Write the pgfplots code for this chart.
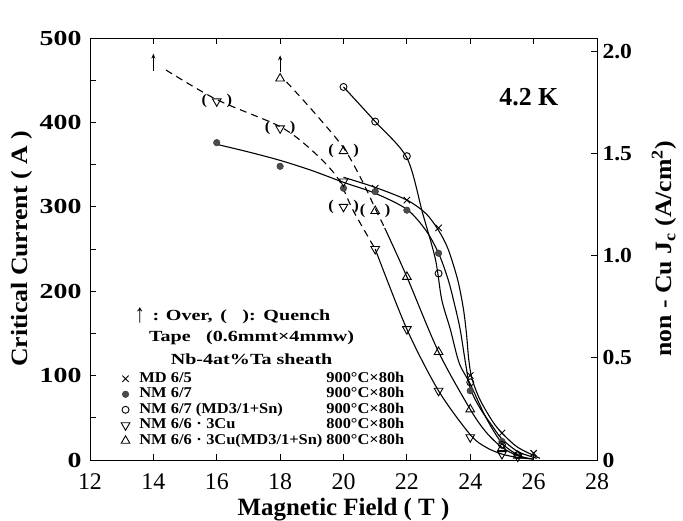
\documentclass[border=0pt]{standalone}
\usepackage{fontspec}
\setmainfont{Liberation Serif}
\newfontfamily\wide{Liberation Serif}[FakeStretch=1.3]
\newfontfamily\lwide{Liberation Serif}[FakeStretch=1.1]
\newfontfamily\mwide{Liberation Serif}[FakeStretch=1.1]
\usepackage{graphicx}
\usepackage{pgfplots}
\pgfplotsset{compat=1.18}
\usetikzlibrary{arrows.meta}

% triangles (up / down) and the same with ( ) for quench points
\pgfdeclareplotmark{utri}{%
  \pgfpathmoveto{\pgfpointpolar{90}{\pgfplotmarksize}}%
  \pgfpathlineto{\pgfpointpolar{210}{\pgfplotmarksize}}%
  \pgfpathlineto{\pgfpointpolar{330}{\pgfplotmarksize}}%
  \pgfpathclose\pgfusepath{stroke}}
\pgfdeclareplotmark{dtri}{%
  \pgfpathmoveto{\pgfpointpolar{270}{\pgfplotmarksize}}%
  \pgfpathlineto{\pgfpointpolar{30}{\pgfplotmarksize}}%
  \pgfpathlineto{\pgfpointpolar{150}{\pgfplotmarksize}}%
  \pgfpathclose\pgfusepath{stroke}}
\newcommand\parfont{\mwide\fontsize{15}{15}\selectfont\bfseries}
\pgfdeclareplotmark{qutri}{%
  \pgfuseplotmark{utri}%
  \pgftext[at={\pgfpoint{-2.5\pgfplotmarksize}{0pt}}]{\parfont(}%
  \pgftext[at={\pgfpoint{2.5\pgfplotmarksize}{0pt}}]{\parfont)}}
\pgfdeclareplotmark{qdtri}{%
  \pgfuseplotmark{dtri}%
  \pgftext[at={\pgfpoint{-2.5\pgfplotmarksize}{0pt}}]{\parfont(}%
  \pgftext[at={\pgfpoint{2.5\pgfplotmarksize}{0pt}}]{\parfont)}}
\pgfdeclareplotmark{over}{%
  \pgfsetarrowsend{Stealth[length=5bp,width=4bp]}%
  \pgfpathmoveto{\pgfpoint{0pt}{-9bp}}%
  \pgfpathlineto{\pgfpoint{0pt}{8bp}}%
  \pgfusepath{stroke}}

\newcommand\namecol{\makebox[187bp][l]}
\newcommand\mdot{\hspace{0.3em}·\hspace{0.3em}}

\begin{document}
\begin{tikzpicture}
\pgfplotsset{
  base/.style={scale only axis, width=507bp, height=422bp,
    xmin=12, xmax=28,
    tick align=inside, major tick length=6bp, minor tick length=6bp,
    /pgf/number format/assume math mode=true,
    yticklabel style={font=\wide\fontsize{21.5}{21.5}\selectfont\bfseries},
    xticklabel style={font=\fontsize{24}{24}\selectfont},
    ylabel style={font=\lwide\fontsize{23.5}{23.5}\selectfont\bfseries},
    xlabel style={font=\fontsize{25}{25}\selectfont\bfseries},
    axis line style={line width=0.9bp},
    every tick/.style={line width=0.9bp, black}},
  crv/.style={black, line width=1.1bp, smooth, tension=0.5, no marks, forget plot},
  dcrv/.style={crv, dash pattern=on 7bp off 5bp},
}
\begin{axis}[base, name=main,
  ymin=0, ymax=500,
  xtick={12,14,...,28}, ytick={0,100,...,500}, minor ytick={50,150,...,450},
  xtick pos=both, ytick pos=left,
  xticklabel style={yshift=-10bp},
  yticklabel style={xshift=-5bp},
  xlabel={Magnetic Field ( T )}, ylabel={Critical Current ( A )},
  xlabel style={yshift=-2bp},
  legend style={at={(axis cs:12.87,108)}, anchor=north west, draw=none, fill=none,
    font=\mwide\fontsize{15}{15}\selectfont\bfseries, row sep=0pt, column sep=9bp,
    nodes={inner sep=0pt, text height=11bp, text depth=4.5bp}},
  legend cell align=left,
]
\coordinate (O) at (rel axis cs:0,0);

% ---- markers (legend order) ----
\addplot[only marks, mark=x, mark size=4.5bp, black, line width=0.9bp] coordinates {
  (21,322) (22,308) (23,275) (24,100) (25,32) (26,8)};
\addlegendentry{\namecol{MD 6/5}900°C×80h}
\addplot[only marks, mark=*, mark size=3.3bp, draw=black!80, fill=black!70] coordinates {
  (16,376) (18,348) (20,322) (21,318) (22,296) (23,245) (24,82) (25,22)};
\addlegendentry{\namecol{NM 6/7}900°C×80h}
\addplot[only marks, mark=o, mark size=3.5bp, black, line width=0.9bp] coordinates {
  (20,442) (21,401) (22,360) (23,221) (24,92) (25,18) (25.5,6)};
\addlegendentry{\namecol{NM 6/7 (MD3/1+Sn)}900°C×80h}
\addplot[only marks, mark=dtri, mark size=5bp, black, line width=0.9bp] coordinates {
  (20,330) (21,250) (22,155) (23,82) (24,27) (25,7) (25.5,4)};
\addlegendentry{\namecol{NM 6/6\mdot 3Cu}800°C×80h}
\addplot[only marks, mark=utri, mark size=5bp, black, line width=0.9bp] coordinates {
  (18,452) (22,217) (23,128) (24,60) (25,14) (25.5,5)};
\addlegendentry{\namecol{NM 6/6\mdot 3Cu(MD3/1+Sn)}800°C×80h}

% ---- quench points and over arrows ----
\addplot[only marks, mark=qdtri, mark size=5bp, black, line width=0.9bp, forget plot] coordinates {
  (16,425) (18,393) (20,300)};
\addplot[only marks, mark=qutri, mark size=5bp, black, line width=0.9bp, forget plot] coordinates {
  (20,366) (21,295)};
\addplot[only marks, mark=over, black, line width=0.8bp, forget plot] coordinates {
  (14,472) (18,470)};

% ---- fitted curves ----
% MD 6/5
\addplot[crv] coordinates {
  (20,335) (21,323) (22,308) (22.6,292) (23,272) (23.3,250) (23.6,214)
  (23.78,180) (23.88,150) (23.95,120) (24.05,97) (24.3,72) (24.7,46) (25,32)
  (25.5,15) (26.2,2)};
% NM 6/7
\addplot[crv] coordinates {
  (16,374) (17,365) (18,355) (19,343) (20,329) (21,316) (22,297) (22.6,272)
  (23,245) (23.3,214) (23.5,185) (23.68,155) (23.85,115) (24,85) (24.3,62)
  (24.7,40) (25,25) (25.5,10) (26.1,2)};
% NM 6/7 (MD3/1+Sn)
\addplot[crv] coordinates {
  (20,442) (21,401) (22,358) (22.5,292) (22.9,238) (23.1,190) (23.37,155)
  (23.65,115) (24,90) (24.5,50) (25,20) (25.5,6) (25.8,2)};
% NM 6/6 3Cu
\addplot[dcrv] coordinates {
  (14.4,462) (16,427) (18,395) (19,367) (19.8,335) (20.3,296) (21,250)};
\addplot[crv] coordinates {
  (21,250) (22,155) (23,82) (24,30) (24.5,15) (25,7) (25.5,3) (26,1)};
% NM 6/6 3Cu (MD3/1+Sn)
\addplot[dcrv] coordinates {
  (18.2,448) (19,415) (20,370) (20.6,330) (21,298) (21.3,275)};
\addplot[crv] coordinates {
  (21.3,275) (22,217) (23,128) (24,60) (24.5,33) (25,15) (25.5,5) (26,1)};

% ---- annotations ----
\node[font=\fontsize{26}{26}\selectfont\bfseries] at (axis cs:25.85,430) {4.2 K};
\node[font=\wide\fontsize{15.5}{15.5}\selectfont\bfseries] at (axis cs:16.5,171)
  {\raisebox{-2bp}{\scalebox{1}[1.7]{↑}}\enspace: Over,\enspace(\quad):\enspace Quench};
\node[font=\wide\fontsize{15.5}{15.5}\selectfont\bfseries] at (axis cs:17.1,145)
  {Tape\quad(0.6mmt×4mmw)};
\node[font=\wide\fontsize{15.5}{15.5}\selectfont\bfseries] at (axis cs:17.1,119)
  {Nb-4at\%Ta sheath};
\end{axis}

\begin{axis}[base,
  ymin=0, ymax=2.064,
  axis x line=none, axis y line*=right,
  ytick={0,0.5,1,1.5,2}, yticklabels={0,0.5,1.0,1.5,2.0},
  yticklabel style={xshift=2bp, font=\mwide\fontsize{21.5}{21.5}\selectfont\bfseries},
  ylabel={non - Cu J\textsubscript{c} (A/cm\textsuperscript{2})},
  ylabel style={yshift=-13bp},
]
\addplot[draw=none] coordinates {(12,0)};
\node[anchor=south west, font=\wide\fontsize{21}{21}\selectfont\bfseries, inner sep=0pt]
  at ([shift={(2bp,8bp)}]rel axis cs:1,1) {×10\textsuperscript{4}};
\end{axis}

\pgfresetboundingbox
\path ([shift={(-90bp,-61bp)}]O) rectangle ++(683bp,521bp);
\end{tikzpicture}
\end{document}
